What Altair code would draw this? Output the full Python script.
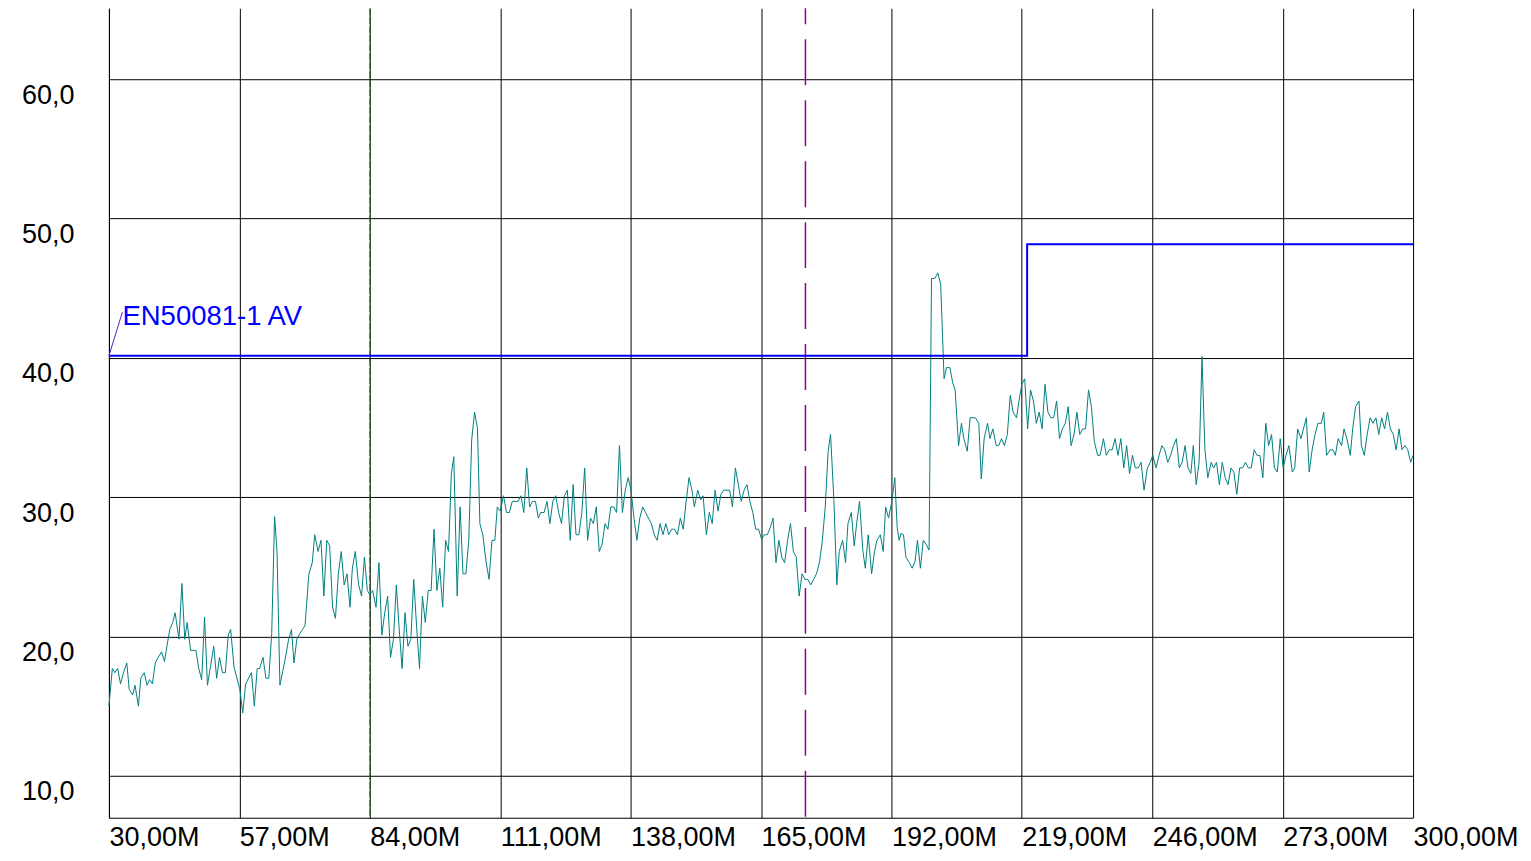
import altair as alt
import pandas as pd

# ---- data ----
freq_mhz = [
    30.0, 30.7, 31.2, 31.8, 32.4, 33.1, 33.7, 34.2, 34.9, 35.4, 36.1, 36.6, 37.3, 37.9, 38.4, 39.0,
    39.6, 40.2, 40.9, 41.5, 42.0, 42.6, 43.2, 43.7, 44.5, 45.1, 45.7, 46.2, 46.9, 48.0, 48.6, 49.2,
    49.8, 50.4, 51.0, 51.7, 52.3, 52.9, 53.5, 54.1, 54.7, 55.2, 55.9, 57.1, 57.7, 58.3, 59.5, 60.1,
    60.7, 61.2, 61.9, 62.5, 63.1, 63.7, 64.3, 64.8, 65.4, 66.1, 66.6, 67.2, 67.8, 68.3, 68.9, 69.5,
    70.1, 70.6,
    71.4, 72.1, 72.6, 73.3, 73.9, 74.5, 75.1, 75.7, 76.3, 76.9, 77.5, 78.1, 78.7, 79.3, 79.9, 80.4,
    81.0, 81.7, 82.3, 82.9, 83.5, 84.0, 84.6, 85.3, 85.9, 86.5, 87.1, 87.7, 88.3, 88.9, 89.5, 90.1,
    90.7, 91.3, 91.9, 92.5, 93.1, 93.7, 94.3, 94.9, 95.5, 96.1, 96.7, 97.3, 97.9, 98.5, 99.1, 99.7,
    100.3, 100.9, 101.4, 102.1, 102.7, 103.3, 103.9, 104.5, 105.1, 105.7, 106.3, 106.8, 107.4, 108.1,
    108.7, 109.3, 109.9, 110.4,
    111.0, 111.7, 112.3, 112.9, 113.5, 114.7, 115.3, 115.9, 116.5, 117.1, 117.7, 118.3, 118.9, 119.4,
    120.1, 120.7, 121.3, 121.9, 122.5, 123.1, 123.7, 124.3, 124.9, 125.5, 126.1, 126.7, 127.3, 127.9,
    128.5, 129.1, 129.7, 130.3, 130.9, 131.5, 132.1, 132.7, 133.3, 133.9, 134.5, 135.1, 135.7, 136.3,
    136.9, 137.5, 138.1, 138.7, 139.3, 139.9, 140.5, 141.1, 141.7, 142.3, 142.9, 143.5, 144.1, 144.7,
    145.3, 145.9, 146.5, 147.1, 147.7, 148.3, 148.9, 149.5, 150.1, 150.7,
    151.2, 151.9, 152.5, 153.0, 153.7, 154.3, 154.9, 155.5, 156.1, 156.7, 157.3, 158.5, 159.1, 159.7,
    160.3, 160.9, 161.5, 162.1, 162.7, 163.3, 163.9, 164.5, 165.1, 165.7, 166.3, 166.9, 167.5, 168.1,
    168.7, 169.3, 169.9, 170.5, 171.1, 171.7, 172.3, 172.9, 173.5, 174.1, 174.7, 175.3, 175.9, 176.5,
    177.1, 177.7, 178.3, 178.9, 179.4, 180.1, 180.7, 181.2, 181.9, 182.5, 183.0, 183.7, 184.3, 184.8,
    185.4, 186.1, 186.6, 187.2, 187.9, 188.5, 189.0, 189.7, 190.3, 190.8, 191.4, 192.1, 192.7, 193.2,
    193.6, 194.0, 194.5, 195.0, 195.7, 196.3, 196.9, 197.4, 198.0, 198.6, 199.2, 199.8,
    200.3, 201.0, 201.6, 202.2, 202.9, 203.4, 204.1, 204.7, 205.2, 205.9, 206.5, 207.0, 207.7, 208.3,
    209.4, 210.1, 210.6, 211.2, 211.9, 212.4, 213.0, 213.7, 214.2, 214.8, 215.4, 216.0, 216.6, 217.2,
    217.9, 218.4, 219.0, 219.6, 220.2, 220.8, 221.4, 222.0, 222.6, 223.2, 223.8, 224.4, 225.0, 225.6,
    226.2, 226.8, 227.4, 228.0, 228.6, 229.2, 229.8, 230.4, 231.0, 231.6, 232.2, 232.8, 233.4, 234.0,
    234.7, 235.2, 235.9, 236.5, 237.1, 237.7, 238.3, 238.9, 239.5, 240.1, 240.7, 241.3, 241.9, 242.5,
    243.1, 243.7, 244.3, 245.0, 245.6, 246.1, 246.8, 247.4, 248.0, 248.6, 249.2, 249.8, 250.4, 251.0,
    251.6, 252.2, 252.8, 253.4, 254.0, 254.5, 255.1, 255.7, 256.3, 256.9, 257.5, 258.2, 258.7, 259.3,
    259.9, 260.5, 261.1, 261.7, 262.3, 262.9, 263.5, 264.1, 264.7, 265.3, 265.9, 266.5, 267.1, 267.7,
    268.3, 268.9, 269.5, 270.1, 270.7, 271.3, 271.9, 272.5, 273.1, 273.7, 274.3, 275.0, 275.5, 276.1,
    276.8, 277.3, 277.9, 278.5, 279.1, 279.7, 280.3, 281.0, 281.5, 282.1, 282.8, 283.4, 283.9, 284.5,
    285.2, 285.7, 286.3, 287.0, 287.5, 288.1, 288.8, 289.3, 289.9, 290.5, 291.1, 291.7, 292.3, 292.9,
    293.5, 294.1, 294.7, 295.3, 295.9, 296.5, 297.1, 297.7, 298.3, 298.9, 299.5, 300.0,
]

level_dbuv = [
    15.0, 17.7, 17.4, 17.7, 16.6, 17.5, 18.1, 16.2, 15.8, 16.5, 15.0, 17.0, 17.4, 16.5, 16.9, 16.6,
    18.1, 18.5, 18.9, 18.2, 19.3, 20.5, 21.0, 21.7, 19.8, 23.8, 19.8, 21.0, 19.0, 19.0, 17.7, 16.9,
    21.4, 16.5, 17.8, 19.3, 17.0, 18.5, 17.4, 17.4, 20.1, 20.5, 17.8, 16.2, 14.5, 16.6, 17.4, 15.0,
    17.7, 17.7, 18.5, 17.0, 17.0, 20.2, 28.6, 26.1, 16.5, 17.7, 18.6, 19.8, 20.5, 18.1, 19.8, 20.2,
    20.5, 20.8,
    24.5, 25.3, 27.3, 26.1, 26.9, 22.9, 26.9, 26.5, 22.1, 21.3, 24.5, 26.1, 23.7, 24.5, 22.1, 24.9,
    26.1, 23.7, 22.9, 25.7, 23.3, 23.0, 23.3, 22.1, 25.3, 20.1, 21.7, 22.9, 18.5, 19.8, 23.7, 20.5,
    17.7, 21.7, 19.3, 19.8, 24.1, 20.7, 17.7, 22.9, 21.0, 23.3, 23.3, 27.7, 23.3, 24.9, 22.1, 26.9,
    26.1, 31.7, 32.9, 22.9, 29.3, 24.5, 24.5, 26.9, 34.1, 36.1, 34.9, 28.1, 27.3, 25.3,
    24.1, 26.9, 26.9, 29.3,
    29.0, 30.1, 28.9, 28.9, 29.7, 29.7, 30.1, 28.9, 32.1, 29.3, 29.7, 29.7, 28.5, 28.9,
    28.9, 29.7, 28.1, 29.7, 30.1, 28.9, 28.1, 30.1, 30.5, 26.9, 30.9, 27.3, 27.3, 28.9,
    32.1, 26.9, 28.5, 28.1, 29.3, 26.1, 26.6, 28.1, 27.7, 29.3, 29.3, 28.9, 33.7, 28.9,
    30.5, 31.4, 30.5, 28.5, 26.9, 28.5, 29.3, 28.9, 28.5, 28.1, 27.3, 26.9, 28.1, 27.3,
    28.1, 27.3, 27.7, 27.7, 27.3, 28.5, 27.7, 29.7, 31.4, 30.5,
    29.3, 30.5, 29.8, 30.1, 27.3, 28.9, 28.1, 30.5, 29.0, 30.2, 30.5, 30.5, 29.3, 32.1,
    30.9, 29.7, 30.5, 30.9, 29.7, 28.9, 27.7, 27.7, 27.0, 27.3, 27.3, 27.8, 28.5, 25.3,
    26.9, 25.7, 25.3, 26.9, 28.1, 26.1, 25.7, 22.9, 24.5, 24.1, 24.1, 23.7, 24.1, 24.5,
    25.3, 26.9, 29.3, 33.3, 34.5, 29.7, 23.7, 26.1, 26.9, 25.3, 28.1, 28.9, 26.5, 28.1,
    29.7, 26.1, 24.9, 27.3, 24.5, 26.1, 26.9, 27.3, 26.1, 29.3, 28.5, 29.7, 31.4, 27.8,
    26.9, 27.4, 27.3, 25.7, 25.3, 24.9, 25.4, 26.9, 24.9, 26.9, 26.6, 26.2,
    45.7, 45.7, 46.1, 45.3, 38.5, 39.3, 39.3, 38.2, 37.7, 33.7, 35.3, 34.2, 33.3, 35.7,
    35.7, 35.3, 31.3, 34.2, 35.3, 34.2, 34.9, 33.7, 33.7, 34.2, 33.7, 34.5, 37.3, 36.1,
    35.7, 36.9, 38.1, 38.5, 34.9, 37.7, 36.9, 35.3, 36.1, 34.9, 38.1, 36.1, 35.7, 35.7,
    36.9, 34.2, 34.9, 35.3, 36.5, 33.7, 34.5, 36.1, 34.5, 34.9, 34.9, 37.7, 36.5, 34.0,
    33.0, 33.0, 34.2, 33.0, 33.4, 33.4, 34.2, 33.0, 34.2, 32.1, 33.7, 31.7, 33.0, 32.1,
    32.1, 32.5, 30.5, 32.1, 32.5, 33.0, 32.1, 33.0, 33.7, 33.4, 32.5, 33.0, 33.7, 34.2,
    32.1, 32.5, 33.7, 32.1, 31.7, 33.7, 30.9, 32.5, 40.1, 33.4, 31.4, 32.5, 32.1, 32.5,
    30.9, 32.5, 31.4, 30.9, 32.1, 31.8, 30.2, 32.1, 32.1, 32.5, 32.1, 32.1, 33.4, 33.0,
    33.0, 31.4, 35.3, 33.7, 34.5, 32.1, 31.8, 34.2, 32.1, 33.0, 33.7, 31.8, 32.1, 34.9,
    34.2, 34.9, 35.7, 31.8, 33.4, 34.5, 35.3, 35.3, 36.1, 33.0, 33.4, 33.4, 33.0, 34.2,
    33.7, 34.9, 34.2, 33.0, 34.9, 36.5, 36.9, 33.7, 33.0, 34.5, 35.7, 35.3, 35.7, 34.5,
    35.7, 34.9, 36.1, 34.9, 34.5, 33.4, 34.9, 33.4, 33.7, 33.4, 32.5, 33.0,
]

limit_freq = [30.0, 220.1, 220.1, 300.0]
limit_level = [40.15, 40.15, 48.15, 48.15]

x_ticks = [30, 57, 84, 111, 138, 165, 192, 219, 246, 273, 300]
y_ticks = [10, 20, 30, 40, 50, 60]

green_marker_freq = [84.0]
purple_marker_freq = [174.2]

label_text = ["EN50081-1 AV"]
label_freq = [32.8]
label_level = [42.35]
leader_freq = [30.0, 32.8]
leader_level = [40.15, 43.3]

FONT = "Liberation Sans"

trace_df = pd.DataFrame({"f": freq_mhz, "L": level_dbuv})
limit_df = pd.DataFrame({"f": limit_freq, "L": limit_level, "i": list(range(len(limit_freq)))})
green_df = pd.DataFrame({"f": green_marker_freq})
purple_df = pd.DataFrame({"f": purple_marker_freq})
label_df = pd.DataFrame({"f": label_freq, "L": label_level, "t": label_text})
leader_df = pd.DataFrame({"f": leader_freq, "L": leader_level, "i": [0, 1]})

x_axis = alt.Axis(
    values=x_ticks,
    labelExpr="replace(format(datum.value, '.2f'), '.', ',') + 'M'",
    grid=True, gridColor="black", gridOpacity=1, gridWidth=1,
    domain=True, domainColor="black", domainWidth=1,
    ticks=False, labelAlign="left", labelBaseline="top", labelPadding=7,
    labelFont=FONT, labelFontSize=27, labelColor="black",
    labelOverlap=False, labelFlush=False, labelBound=False, title=None,
)
y_axis = alt.Axis(
    values=y_ticks,
    labelExpr="replace(format(datum.value, '.1f'), '.', ',')",
    grid=True, gridColor="black", gridOpacity=1, gridWidth=1,
    domain=True, domainColor="black", domainWidth=1,
    ticks=False, labelAlign="right", labelBaseline="top", labelPadding=35,
    labelOffset=3,
    labelFont=FONT, labelFontSize=27, labelColor="black",
    labelOverlap=False, labelFlush=False, labelBound=False, title=None,
)
x_scale = alt.Scale(domain=[30, 300], nice=False, zero=False)
y_scale = alt.Scale(domain=[6.987, 65.093], nice=False, zero=False)

X = alt.X("f:Q", scale=x_scale, axis=x_axis)
Y = alt.Y("L:Q", scale=y_scale, axis=y_axis)

trace = alt.Chart(trace_df).mark_line(color="#008080", strokeWidth=1).encode(x=X, y=Y)

limit = alt.Chart(limit_df).mark_line(color="#0000FF", strokeWidth=2).encode(
    x=X, y=Y, order="i:Q"
)

green = alt.Chart(green_df).mark_rule(
    color="#009000", strokeWidth=1, strokeDash=[7, 2]
).encode(x=X)

purple = alt.Chart(purple_df).mark_rule(
    color="#900090", strokeWidth=1.5, strokeDash=[46, 15], strokeDashOffset=30
).encode(x=X)

leader = alt.Chart(leader_df).mark_line(color="#5020D0", strokeWidth=1).encode(
    x=X, y=Y, order="i:Q"
)

label = alt.Chart(label_df).mark_text(
    align="left", baseline="alphabetic", font=FONT, fontSize=27.5, color="#0000FF"
).encode(x=X, y=Y, text="t:N")

chart = (
    alt.layer(green, purple, trace, limit, leader, label)
    .properties(
        width=1305,
        height=810,
        autosize=alt.AutoSizeParams(type="none"),
        padding={"left": 101, "top": 0, "right": 110, "bottom": 43},
        background="white",
    )
    .configure_view(strokeWidth=0)
)

chart.save("out.html", embed_options={"renderer": "svg", "actions": False})
